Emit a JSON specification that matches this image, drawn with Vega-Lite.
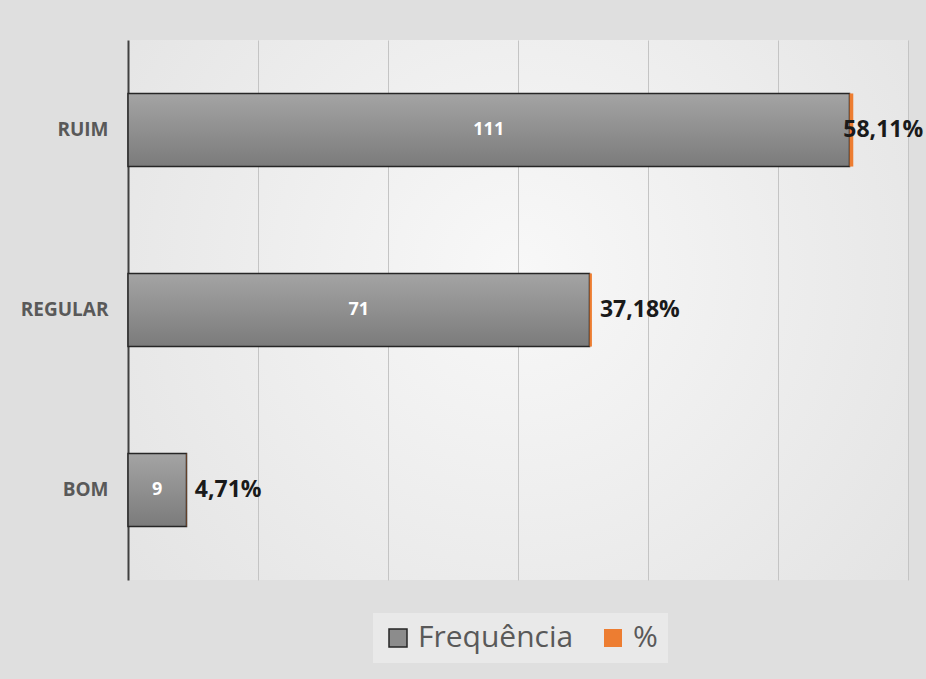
{
  "$schema": "https://vega.github.io/schema/vega-lite/v6.json",
  "width": 780,
  "height": 540,
  "autosize": {"type": "none"},
  "padding": {"left": 128, "top": 40, "right": 18, "bottom": 99},
  "background": "#dfdfdf",
  "config": {
    "view": {
      "stroke": null,
      "fill": {"gradient": "radial", "x1": 0.5, "y1": 0.45, "x2": 0.5, "y2": 0.45, "r1": 0, "r2": 0.75,
        "stops": [{"offset": 0, "color": "#f8f8f8"}, {"offset": 1, "color": "#e0e0e0"}]}
    },
    "font": "Open Sans",
    "locale": {"number": {"decimal": ",", "thousands": ".", "grouping": [3], "currency": ["R$", ""]}}
  },
  "data": {
    "values": [
      {"categoria": "RUIM", "serie": "Frequência", "valor": 111},
      {"categoria": "RUIM", "serie": "%", "valor": 0.5811},
      {"categoria": "REGULAR", "serie": "Frequência", "valor": 71},
      {"categoria": "REGULAR", "serie": "%", "valor": 0.3718},
      {"categoria": "BOM", "serie": "Frequência", "valor": 9},
      {"categoria": "BOM", "serie": "%", "valor": 0.0471}
    ]
  },
  "encoding": {
    "y": {
      "field": "categoria", "type": "nominal", "sort": ["RUIM", "REGULAR", "BOM"],
      "scale": {"paddingInner": 0.594, "paddingOuter": 0.297},
      "axis": {"title": null, "ticks": false, "domainColor": "#404040", "domainWidth": 2,
        "labelFontSize": 19, "labelFontWeight": "bold", "labelColor": "#595959", "labelPadding": 20, "grid": false}
    }
  },
  "layer": [
    {
      "transform": [{"filter": "datum.serie === 'Frequência'"}],
      "mark": {"type": "bar", "stroke": "#262626", "strokeWidth": 1.5,
        "fill": {"gradient": "linear", "x1": 0, "y1": 0, "x2": 0, "y2": 1,
          "stops": [{"offset": 0, "color": "#a4a4a4"}, {"offset": 1, "color": "#7b7b7b"}]}},
      "encoding": {
        "x": {"field": "valor", "type": "quantitative", "stack": null,
          "scale": {"domain": [0, 120], "nice": false},
          "axis": {"title": null, "labels": false, "ticks": false, "domain": false, "values": [20, 40, 60, 80, 100, 120],
            "gridColor": "#c4c4c4", "gridWidth": 1}}
      }
    },
    {
      "transform": [
        {"stack": "valor", "groupby": ["categoria"], "sort": [{"field": "serie", "order": "descending"}], "as": ["x0", "x1"]},
        {"filter": "datum.serie === '%'"}
      ],
      "mark": {"type": "bar"},
      "encoding": {
        "x": {"field": "x0", "type": "quantitative", "scale": {"domain": [0, 120], "nice": false}, "axis": null},
        "x2": {"field": "x1"},
        "color": {"field": "serie", "type": "nominal",
          "scale": {"domain": ["Frequência", "%"], "range": ["#8c8c8c", "#ED7D31"]},
          "legend": {"title": null, "orient": "none", "legendX": 245, "legendY": 573, "direction": "horizontal",
            "symbolType": "square", "symbolSize": 324, "symbolStrokeWidth": 1.5,
            "labelFontSize": 30, "labelLimit": 400, "labelColor": "#595959", "labelOffset": 5, "columnPadding": 24,
            "fillColor": "#e9e9e9", "padding": 10,
            "encode": {"symbols": {"update": {"stroke": {"signal": "datum.label === 'Frequência' ? '#262626' : 'transparent'"}}}}}}
      }
    },
    {
      "transform": [
        {"stack": "valor", "groupby": ["categoria"], "sort": [{"field": "serie", "order": "descending"}], "as": ["x0", "x1"]},
        {"filter": "datum.serie === '%'"}
      ],
      "mark": {"type": "text", "align": "left", "baseline": "middle", "dx": {"expr": "datum.x1 > 100 ? -10 : 8"}, "fontSize": 23, "fontWeight": "bold", "color": "#1a1a1a"},
      "encoding": {
        "x": {"field": "x1", "type": "quantitative", "scale": {"domain": [0, 120], "nice": false}, "axis": null},
        "text": {"field": "valor", "type": "quantitative", "format": ".2%"}
      }
    },
    {
      "transform": [{"filter": "datum.serie === 'Frequência'"}],
      "mark": {"type": "text", "align": "center", "baseline": "middle", "fontSize": 18, "fontWeight": "bold", "color": "#ffffff"},
      "encoding": {
        "x": {"field": "valor", "type": "quantitative", "scale": {"domain": [0, 240], "nice": false}, "axis": null},
        "text": {"field": "valor", "type": "quantitative"}
      }
    }
  ],
  "resolve": {"scale": {"x": "independent"}}
}
